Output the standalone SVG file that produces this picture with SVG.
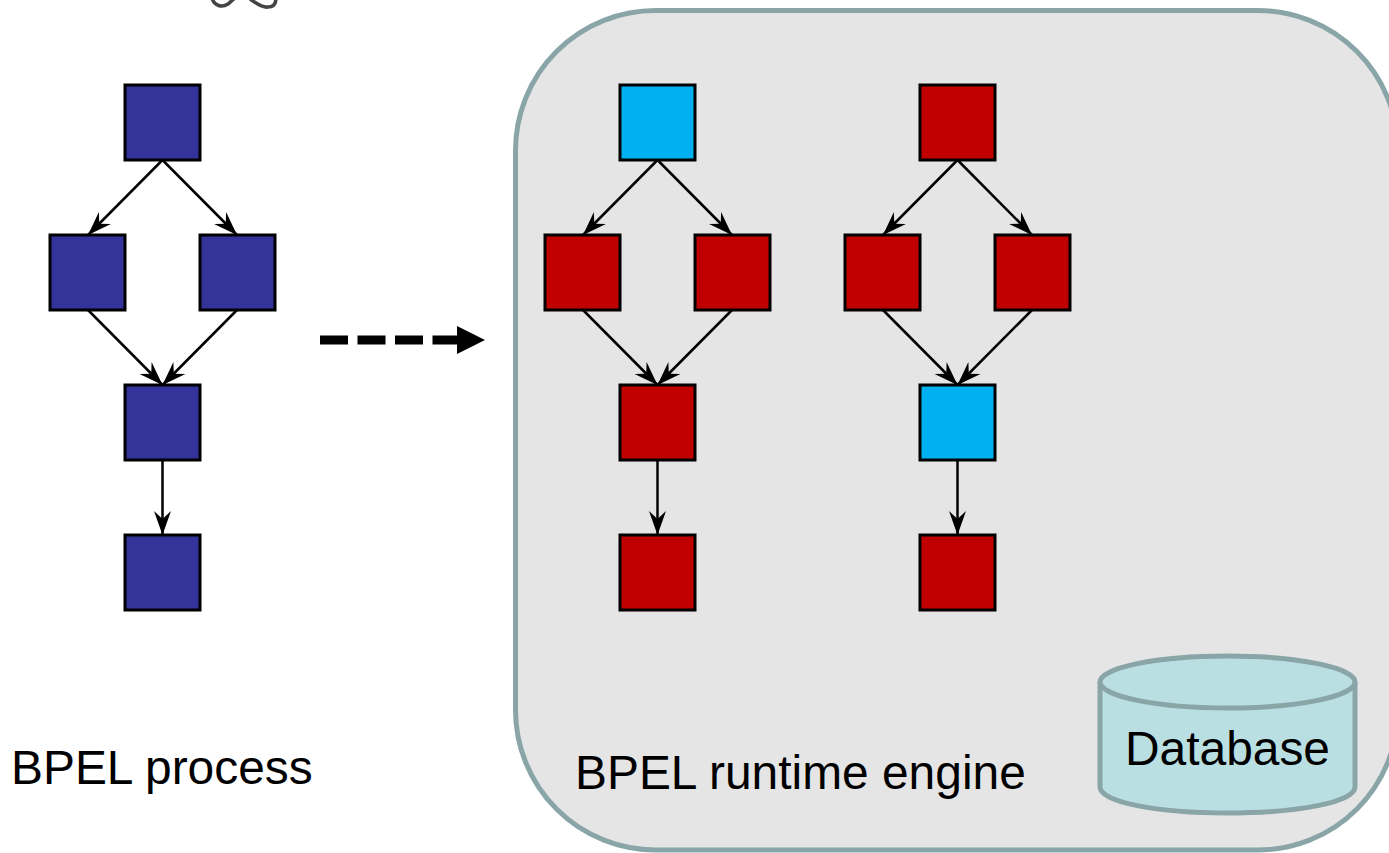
<svg xmlns="http://www.w3.org/2000/svg" width="1389" height="853" viewBox="0 0 1389 853">
<style>
.n{stroke:#000;stroke-width:3}
.b{fill:#333399}.r{fill:#c00000}.c{fill:#00b0f0}
.e{fill:none;stroke:#000;stroke-width:2.500;marker-end:url(#a)}
.t{font-family:"Liberation Sans",Arial,sans-serif;font-size:47.900px;fill:#000}
</style>
<defs>
<marker id="a" markerUnits="userSpaceOnUse" markerWidth="26" markerHeight="26" refX="23" refY="13" orient="auto" overflow="visible">
<path d="M23 13L-1 4.500L7 13L-1 21.500Z" fill="#000"/>
</marker>
</defs>
<rect width="1389" height="853" fill="#fff"/>
<g id="fragment"><path d="M212 -2C214 6 222 8 228 4L236 -3M250 -1C256 3 262 8 268 7C274 7 276 3 276 -2" fill="none" stroke="#444" stroke-width="3.500"/></g>
<g id="engine"><rect x="515.500" y="10.500" width="882.500" height="839.500" rx="140" ry="140" fill="#e5e5e5" stroke="#89a5a8" stroke-width="5"/></g>
<g id="connectors">
<path class="e" d="M162.500 160L88 235"/><path class="e" d="M162.500 160L237 235"/><path class="e" d="M88 310L162.500 385"/><path class="e" d="M237 310L162.500 385"/><path class="e" d="M162.500 460V535"/>
<path class="e" d="M657.500 160L583 235"/><path class="e" d="M657.500 160L732 235"/><path class="e" d="M583 310L657.500 385"/><path class="e" d="M732 310L657.500 385"/><path class="e" d="M657.500 460V535"/>
<path class="e" d="M957.500 160L883 235"/><path class="e" d="M957.500 160L1032 235"/><path class="e" d="M883 310L957.500 385"/><path class="e" d="M1032 310L957.500 385"/><path class="e" d="M957.500 460V535"/>
<path d="M320 340H458" fill="none" stroke="#000" stroke-width="9" stroke-dasharray="28 9.500"/>
<path d="M457 326L485 340L457 354Z" fill="#000"/>
</g>
<g id="p1"><rect class="n b" x="125" y="85" width="75" height="75"/></g>
<g id="p2"><rect class="n b" x="50" y="235" width="75" height="75"/></g>
<g id="p3"><rect class="n b" x="200" y="235" width="75" height="75"/></g>
<g id="p4"><rect class="n b" x="125" y="385" width="75" height="75"/></g>
<g id="p5"><rect class="n b" x="125" y="535" width="75" height="75"/></g>
<g id="q1"><rect class="n c" x="620" y="85" width="75" height="75"/></g>
<g id="q2"><rect class="n r" x="545" y="235" width="75" height="75"/></g>
<g id="q3"><rect class="n r" x="695" y="235" width="75" height="75"/></g>
<g id="q4"><rect class="n r" x="620" y="385" width="75" height="75"/></g>
<g id="q5"><rect class="n r" x="620" y="535" width="75" height="75"/></g>
<g id="s1"><rect class="n r" x="920" y="85" width="75" height="75"/></g>
<g id="s2"><rect class="n r" x="845" y="235" width="75" height="75"/></g>
<g id="s3"><rect class="n r" x="995" y="235" width="75" height="75"/></g>
<g id="s4"><rect class="n c" x="920" y="385" width="75" height="75"/></g>
<g id="s5"><rect class="n r" x="920" y="535" width="75" height="75"/></g>
<g id="database">
<path d="M1100 682V787C1100 802 1157 813 1227.500 813S1355 802 1355 787V682" fill="#b9dfe2" stroke="#89a5a8" stroke-width="5"/>
<ellipse cx="1227.500" cy="682" rx="127.500" ry="26" fill="#b9dfe2" stroke="#89a5a8" stroke-width="5"/>
<text class="t" x="1227.500" y="765" text-anchor="middle">Database</text>
</g>
<text class="t" x="11" y="784">BPEL process</text>
<text class="t" x="575" y="789">BPEL runtime engine</text>
</svg>
